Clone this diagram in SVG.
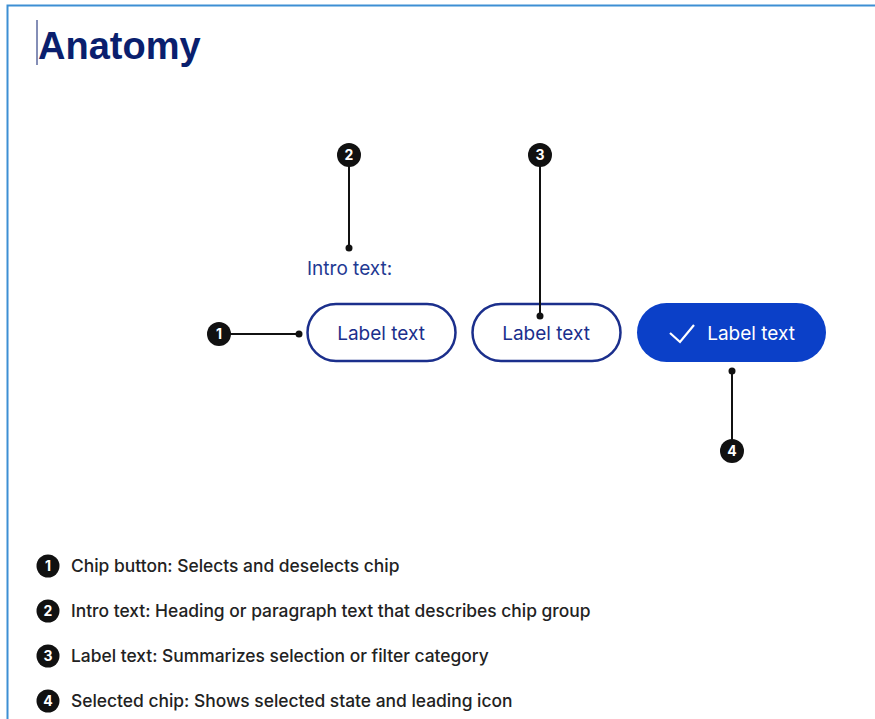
<svg xmlns="http://www.w3.org/2000/svg" width="875" height="719" viewBox="0 0 875 719">
<style>
.badge{fill:#111}
.bnum{fill:#fff;font-family:Inter,"Liberation Sans",Arial,sans-serif;font-size:14px;font-weight:bold;text-anchor:middle}
.lead{stroke:#111;stroke-width:2;fill:none}
.dot{fill:#111}
.chip{fill:#fff;stroke:#1b2f8c;stroke-width:2.5}
.chiptext{font-family:Inter,"Liberation Sans",Arial,sans-serif;font-size:19px;fill:#1b2f8c;text-anchor:middle}
.legend{font-family:Inter,"Liberation Sans",Arial,sans-serif;font-size:17.4px;font-weight:500;fill:#222}
</style>
<rect width="875" height="719" fill="#fff"/>
<path d="M7.5 719 V5.5 H875" fill="none" stroke="#3d8fd4" stroke-width="2"/>
<line x1="37" y1="20" x2="37" y2="65" stroke="#0a1f6e" stroke-width="1"/>
<text x="38" y="59" font-family="Liberation Sans,Arial,sans-serif" font-size="38" font-weight="bold" fill="#0a1f6e">Anatomy</text>

<g id="intro">
<text x="307" y="275" font-family="Inter,Liberation Sans,Arial,sans-serif" font-size="19" fill="#1f3a93">Intro text:</text>
</g>
<g id="chip1">
<rect class="chip" x="307.5" y="304" width="148" height="57" rx="28.5"/>
<text class="chiptext" x="381" y="340">Label text</text>
</g>
<g id="chip2">
<rect class="chip" x="472.5" y="304" width="148" height="57" rx="28.5"/>
<text class="chiptext" x="546" y="340">Label text</text>
</g>
<g id="chip3">
<rect x="637" y="303" width="189" height="59" rx="29.5" fill="#0b40c8"/>
<path d="M670 333 L680 342 L694 325" fill="none" stroke="#fff" stroke-width="2.2"/>
<text class="chiptext" x="751" y="340" style="fill:#fff">Label text</text>
</g>

<g id="connectors">
<line class="lead" x1="219" y1="334" x2="299" y2="334"/>
<circle class="dot" cx="299" cy="334" r="3.5"/>
<line class="lead" x1="349" y1="155" x2="349" y2="248"/>
<circle class="dot" cx="349" cy="248" r="3.5"/>
<line class="lead" x1="540" y1="155" x2="540" y2="316"/>
<circle class="dot" cx="540" cy="316" r="3.5"/>
<line class="lead" x1="732" y1="371" x2="732" y2="451"/>
<circle class="dot" cx="732" cy="371" r="3.5"/>
</g>

<g id="badge1"><circle class="badge" cx="219" cy="334" r="12"/><text class="bnum" x="219" y="339">1</text></g>
<g id="badge2"><circle class="badge" cx="349" cy="155" r="12"/><text class="bnum" x="349" y="160">2</text></g>
<g id="badge3"><circle class="badge" cx="540" cy="155" r="12"/><text class="bnum" x="540" y="160">3</text></g>
<g id="badge4"><circle class="badge" cx="732" cy="451" r="12"/><text class="bnum" x="732" y="456">4</text></g>

<g id="legend">
<circle class="badge" cx="48" cy="566" r="11.5"/><text class="bnum" x="48" y="571">1</text>
<text class="legend" x="71" y="572">Chip button: Selects and deselects chip</text>
<circle class="badge" cx="48" cy="611" r="11.5"/><text class="bnum" x="48" y="616">2</text>
<text class="legend" x="71" y="617">Intro text: Heading or paragraph text that describes chip group</text>
<circle class="badge" cx="48" cy="656" r="11.5"/><text class="bnum" x="48" y="661">3</text>
<text class="legend" x="71" y="662">Label text: Summarizes selection or filter category</text>
<circle class="badge" cx="48" cy="701" r="11.5"/><text class="bnum" x="48" y="706">4</text>
<text class="legend" x="71" y="707">Selected chip: Shows selected state and leading icon</text>
</g>
</svg>
